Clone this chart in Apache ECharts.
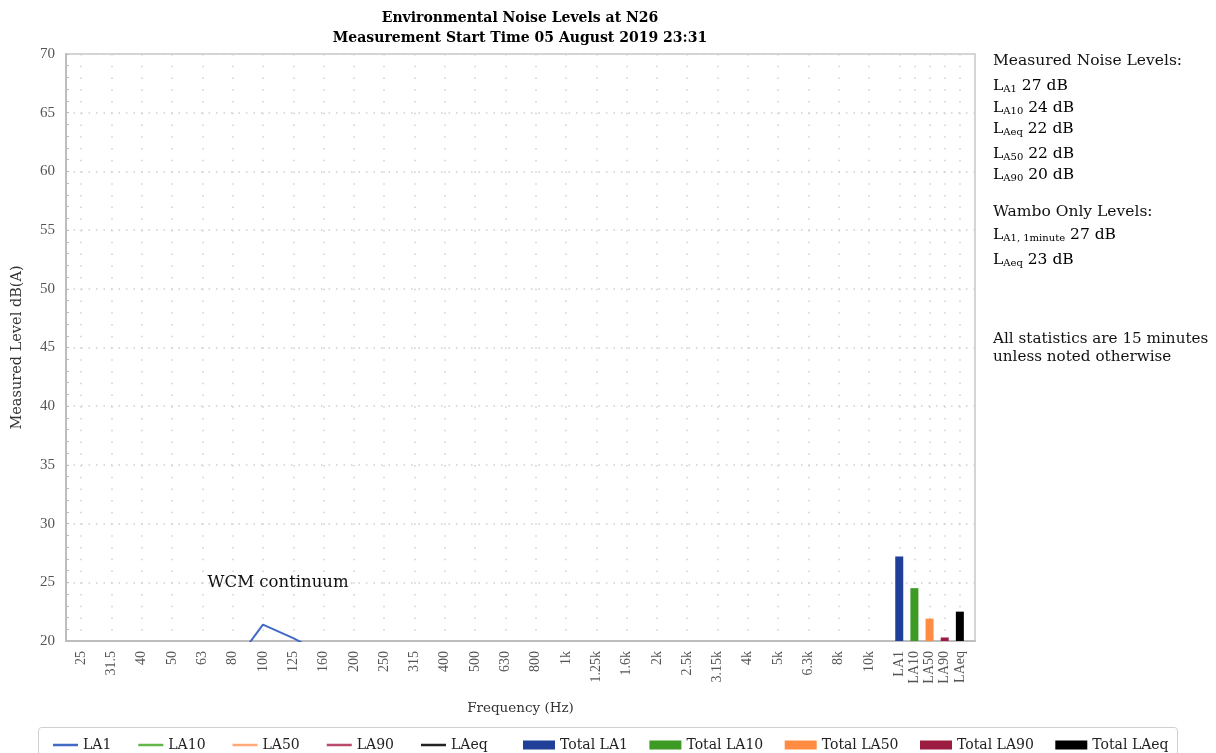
<!DOCTYPE html>
<html>
<head>
<meta charset="utf-8">
<script src="https://cdn.jsdelivr.net/npm/echarts@6/dist/echarts.min.js"></script>
<style>html,body{margin:0;padding:0;background:#fff}#c{width:1216px;height:753px}</style>
</head>
<body>
<div id="c"></div>
<script>
// ---- data ----
const freqLabels = ['25','31.5','40','50','63','80','100','125','160','200','250','315','400','500','630','800','1k','1.25k','1.6k','2k','2.5k','3.15k','4k','5k','6.3k','8k','10k'];
const totalLabels = ['LA1','LA10','LA50','LA90','LAeq'];
// LA1 spectrum (only the part visible above 20 dB could be read)
const la1Spectrum = [null,null,null,null,null,17.9,21.4,20.25,18.9,null,null,null,null,null,null,null,null,null,null,null,null,null,null,null,null,null,null];
const totalValues = [27.2, 24.5, 21.9, 20.3, 22.5];
const yTicks = [20,25,30,35,40,45,50,55,60,65,70];
const measuredNames = ['A1','A10','Aeq','A50','A90'];
const measuredValues = [27, 24, 22, 22, 20];
const wamboNames = ['A1, 1minute','Aeq'];
const wamboValues = [27, 23];

const lineNames = ['LA1','LA10','LA50','LA90','LAeq'];
const lineColors = ['#4169c6','#62b64a','#ffa97a','#b84a6c','#222222'];
const barNames = ['Total LA1','Total LA10','Total LA50','Total LA90','Total LAeq'];
const barColors = ['#1f3f99','#3d9a25','#ff8c42','#9b1c40','#000000'];

// ---- build axis slots: each frequency band = 2 slots, totals = 1 slot each ----
const nSlots = 61;
const cats = new Array(nSlots).fill('');
freqLabels.forEach((f,i)=>{ cats[2*i+1] = f; });
totalLabels.forEach((t,j)=>{ cats[55+j] = t; });
const isLabeled = (idx) => cats[idx] !== '';

const serif = 'DejaVu Serif';
const numFont = 'Liberation Serif';

const series = [];
lineNames.forEach((n,i)=>{
  let data = [];
  if (i === 0) {
    la1Spectrum.forEach((v,k)=>{ if (v !== null) data.push([2*k+1, v]); });
  }
  series.push({
    name: n, type: 'line', data: data, showSymbol: false, symbol: 'none',
    lineStyle: {color: lineColors[i], width: 2}, itemStyle: {color: lineColors[i]},
    clip: true, z: 3,
    markPoint: i === 0 ? {
      symbol: 'circle', symbolSize: 0, silent: true,
      data: [{coord: [14, 25], label: {show: true, formatter: 'WCM continuum', position: 'inside', color: '#111', fontFamily: serif, fontSize: 16.5}}]
    } : undefined
  });
});
barNames.forEach((n,j)=>{
  series.push({
    name: n, type: 'bar', stack: 'tot', barWidth: 8,
    data: [[55+j, totalValues[j]]],
    itemStyle: {color: barColors[j]}, clip: true, z: 2
  });
});

const graphics = [];
graphics.push({type:'text', x: 520, y: 18, style:{text:'Environmental Noise Levels at N26', font:'bold 14px "DejaVu Serif"', fill:'#000', align:'center', verticalAlign:'middle'}});
graphics.push({type:'text', x: 520, y: 38, style:{text:'Measurement Start Time 05 August 2019 23:31', font:'bold 14px "DejaVu Serif"', fill:'#000', align:'center', verticalAlign:'middle'}});

const richStyle = {
  m: {fontFamily: serif, fontSize: 15.5, color: '#111', lineHeight: 20, verticalAlign: 'bottom'},
  s: {fontFamily: serif, fontSize: 10, color: '#111', lineHeight: 14, verticalAlign: 'bottom'}
};
function statText(x, yc, sub, val) {
  return {type:'text', x: x, y: yc, style:{
    text: '{m|L}{s|' + sub + '}{m| ' + val + ' dB}', rich: richStyle, verticalAlign: 'middle'
  }};
}
graphics.push({type:'text', x: 993, y: 61, style:{text:'Measured Noise Levels:', fontFamily: serif, fontSize: 15.5, fill:'#111', verticalAlign:'middle'}});
const mY = [84, 106, 127, 152, 173];
measuredNames.forEach((n,i)=>{ graphics.push(statText(993, mY[i], n, measuredValues[i])); });
graphics.push({type:'text', x: 993, y: 212, style:{text:'Wambo Only Levels:', fontFamily: serif, fontSize: 15.5, fill:'#111', verticalAlign:'middle'}});
const wY = [233, 258];
wamboNames.forEach((n,i)=>{ graphics.push(statText(993, wY[i], n, wamboValues[i])); });
graphics.push({type:'text', x: 993, y: 339, style:{text:'All statistics are 15 minutes', fontFamily: serif, fontSize: 15.2, fill:'#111', verticalAlign:'middle'}});
graphics.push({type:'text', x: 993, y: 357, style:{text:'unless noted otherwise', fontFamily: serif, fontSize: 15.2, fill:'#111', verticalAlign:'middle'}});
graphics.push({type:'rect', shape:{x: 38.5, y: 727.5, width: 1139, height: 40, r: 3}, style:{fill:'none', stroke:'#cfcfcf', lineWidth: 1}, z: -1});

const chart = echarts.init(document.getElementById('c'));
chart.setOption({
  animation: false,
  backgroundColor: '#fff',
  grid: {left: 66, right: 241, top: 54, bottom: 112, show: true, borderColor: '#c8c8c8', borderWidth: 1.5, containLabel: false},
  legend: [
    {data: lineNames, left: 48, top: 733, itemWidth: 25, itemHeight: 2.5, itemGap: 27, icon: 'rect',
     textStyle: {fontFamily: serif, fontSize: 14, color: '#222'}},
    {data: barNames, left: 518, top: 733, itemWidth: 32, itemHeight: 9, itemGap: 21.5, icon: 'rect',
     textStyle: {fontFamily: serif, fontSize: 14, color: '#222'}}
  ],
  xAxis: {
    type: 'category', data: cats, boundaryGap: false,
    name: 'Frequency (Hz)', nameLocation: 'middle', nameGap: 60,
    nameTextStyle: {fontFamily: serif, fontSize: 13.5, color: '#333'},
    axisLine: {lineStyle: {color: '#bdbdbd', width: 2}},
    axisTick: {show: false},
    axisLabel: {interval: (i)=>isLabeled(i), rotate: 90, margin: 10, fontFamily: numFont, fontSize: 14, color: '#555'},
    splitLine: {show: true, interval: (i)=>isLabeled(i) && i !== 0, lineStyle: {color: '#cfcfcf', width: 1.5, type: [1.5, 10.24]}}
  },
  yAxis: [{
    type: 'value', min: yTicks[0], max: yTicks[yTicks.length-1], interval: 5,
    name: 'Measured Level dB(A)', nameLocation: 'middle', nameGap: 41,
    nameTextStyle: {fontFamily: serif, fontSize: 14.5, color: '#333'},
    axisLine: {show: true, lineStyle: {color: '#bdbdbd', width: 2}},
    axisTick: {show: true, inside: true, length: 3, lineStyle: {color: '#bbb'}},
    minorTick: {show: true, splitNumber: 5, length: 3, lineStyle: {color: '#bbb'}},
    axisLabel: {fontFamily: numFont, fontSize: 15, color: '#555', margin: 11},
    splitLine: {show: true, lineStyle: {color: '#cfcfcf', width: 1.5, type: [1.5, 6]}}
  }],
  graphic: graphics,
  series: series
});
</script>
</body>
</html>
